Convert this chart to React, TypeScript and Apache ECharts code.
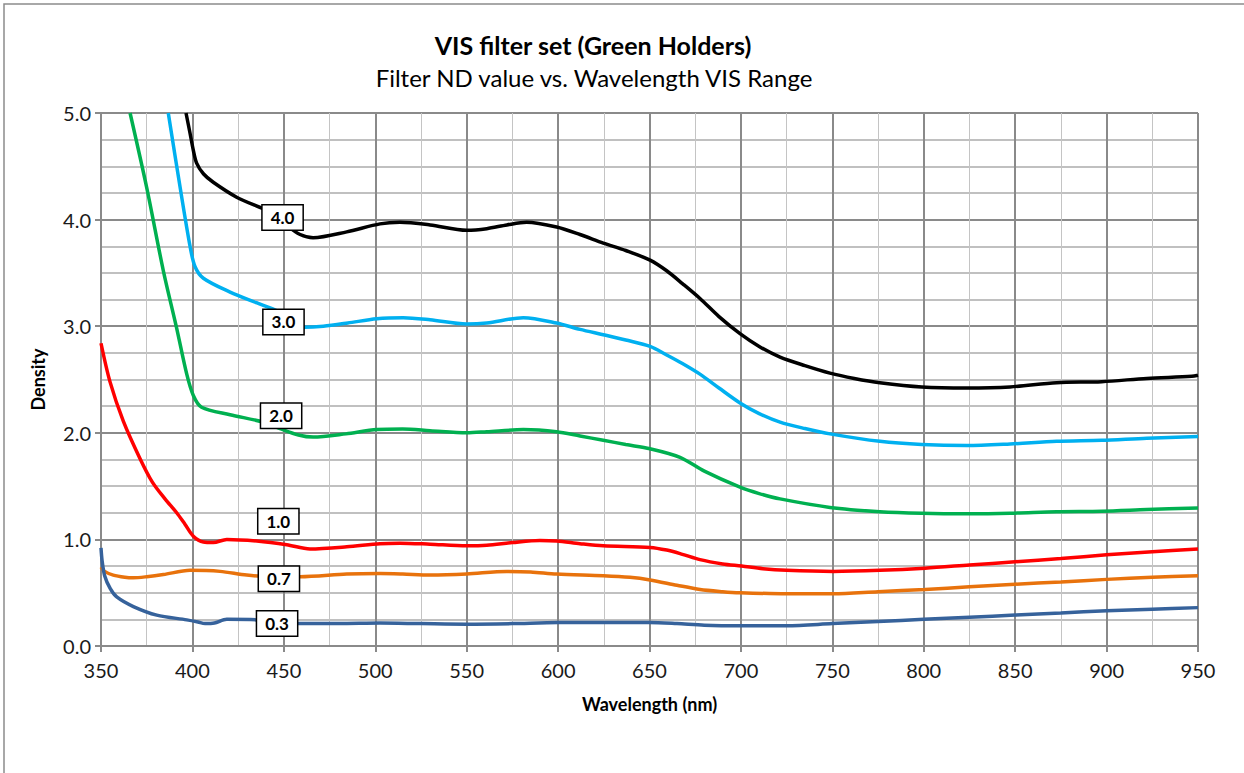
import React, { useEffect, useRef } from "react";
import * as echarts from "echarts";

const FONT = "Lato, 'Open Sans', sans-serif";

// Wavelength (nm) / density pairs for each ND filter curve
const wlND40 = [396.5, 398.7, 400.5, 402.3, 406, 411.4, 424.2, 438.8, 445, 452, 458.9, 466, 484.4, 502.6, 513.5, 530, 550, 561, 572, 582.8, 599.2, 612, 624.7, 637, 650.3, 659.4, 668, 677.6, 688, 699.5, 710, 721.4, 735, 748.7, 762, 776, 798.9, 823.5, 847.2, 872.7, 897.3, 922, 946.6, 950];
const dND40 = [5.0, 4.81, 4.65, 4.53, 4.43, 4.35, 4.21, 4.1, 4.05, 3.94, 3.86, 3.83, 3.885, 3.96, 3.975, 3.95, 3.9, 3.915, 3.95, 3.975, 3.93, 3.86, 3.78, 3.71, 3.62, 3.52, 3.4, 3.26, 3.09, 2.93, 2.81, 2.71, 2.63, 2.56, 2.51, 2.47, 2.43, 2.42, 2.43, 2.47, 2.48, 2.51, 2.53, 2.54];

const wlND30 = [386.8, 393.2, 398.7, 401.4, 406, 420.6, 435, 447, 455, 460.7, 471.6, 485, 500.8, 515.3, 530, 550, 561, 581, 599.2, 612, 624.7, 637, 650.3, 659.4, 668, 677.6, 688, 699.5, 710, 721.4, 735, 748.7, 776, 798.9, 823.5, 847.2, 872.7, 897.3, 922, 950];
const dND30 = [5.0, 4.31, 3.75, 3.56, 3.45, 3.32, 3.22, 3.14, 3.05, 2.99, 3.0, 3.03, 3.07, 3.08, 3.06, 3.02, 3.03, 3.08, 3.03, 2.97, 2.92, 2.87, 2.81, 2.73, 2.65, 2.55, 2.42, 2.28, 2.18, 2.1, 2.04, 1.99, 1.92, 1.89, 1.88, 1.895, 1.92, 1.93, 1.95, 1.965];

const wlND20 = [365.9, 375, 384.1, 391.4, 396.9, 400.5, 405, 420.6, 438.8, 447.9, 458, 466, 484, 500.8, 515, 530, 550, 561, 581, 599.2, 612, 624.7, 637, 650.3, 666.7, 680, 699.5, 710, 721.4, 748.7, 776, 798.9, 823.5, 847.2, 872.7, 897.3, 922, 950];
const dND20 = [5.0, 4.3, 3.52, 2.98, 2.55, 2.35, 2.24, 2.17, 2.1, 2.04, 1.98, 1.96, 1.99, 2.03, 2.035, 2.02, 2.0, 2.01, 2.03, 2.01, 1.97, 1.93, 1.89, 1.85, 1.77, 1.64, 1.49, 1.43, 1.38, 1.3, 1.26, 1.245, 1.24, 1.245, 1.26, 1.265, 1.28, 1.295];

const wlND10 = [350, 354.9, 362.2, 371.3, 378, 385, 391.4, 396, 400.5, 406, 411.4, 418.8, 435.2, 451.6, 464.3, 484.4, 502.6, 513.5, 530, 550, 561, 575, 590, 599.2, 612, 624.7, 650.3, 659.4, 668, 677.6, 690, 700.4, 712, 725, 750.5, 776, 800.7, 825, 850, 875, 900, 925, 950];
const dND10 = [2.84, 2.48, 2.11, 1.76, 1.54, 1.38, 1.25, 1.14, 1.03, 0.975, 0.97, 1.0, 0.985, 0.95, 0.91, 0.93, 0.96, 0.965, 0.955, 0.94, 0.945, 0.97, 0.99, 0.985, 0.96, 0.94, 0.925, 0.9, 0.86, 0.81, 0.77, 0.75, 0.725, 0.71, 0.7, 0.71, 0.73, 0.76, 0.79, 0.82, 0.855, 0.885, 0.91];

const wlND07 = [350, 352, 356.7, 363, 367.7, 375, 384.1, 398.7, 415.1, 429.7, 445, 458.9, 484.4, 502.6, 515, 530, 550, 571.9, 585, 599.2, 624.7, 639.3, 650.3, 665, 677.6, 690, 699.5, 725, 750.5, 775, 800.7, 825, 850, 875, 900, 925, 950];
const dND07 = [0.74, 0.7, 0.665, 0.645, 0.64, 0.65, 0.67, 0.71, 0.7, 0.665, 0.65, 0.65, 0.675, 0.68, 0.675, 0.665, 0.675, 0.7, 0.695, 0.675, 0.66, 0.645, 0.62, 0.57, 0.53, 0.51, 0.5, 0.49, 0.49, 0.51, 0.53, 0.555, 0.58, 0.6, 0.625, 0.645, 0.66];

const wlND03 = [350, 350.6, 352, 355, 358.6, 367.7, 380.5, 396.9, 403, 406.9, 412, 418.8, 435.2, 450, 458.9, 480, 502.6, 525, 550, 575, 600, 625, 650, 665, 680, 700, 725, 750, 775, 800, 825, 850, 875, 900, 925, 950];
const dND03 = [0.92, 0.8, 0.66, 0.54, 0.46, 0.37, 0.29, 0.245, 0.225, 0.21, 0.215, 0.25, 0.245, 0.22, 0.21, 0.21, 0.215, 0.21, 0.205, 0.21, 0.22, 0.22, 0.22, 0.21, 0.195, 0.19, 0.19, 0.21, 0.23, 0.25, 0.27, 0.29, 0.31, 0.33, 0.345, 0.36];

const seriesNames = ["4.0", "3.0", "2.0", "1.0", "0.7", "0.3"];
const seriesColors = ["#000000", "#00B0F0", "#00B050", "#FF0000", "#E8720C", "#36629B"];
const seriesWl = [wlND40, wlND30, wlND20, wlND10, wlND07, wlND03];
const seriesD = [dND40, dND30, dND20, dND10, dND07, dND03];

// Boxed curve labels
const labelX = [449.3, 449.8, 448.5, 447, 447.3, 446.3];
const labelY = [4.02, 3.04, 2.16, 1.17, 0.63, 0.21];
const labelText = ["4.0", "3.0", "2.0", "1.0", "0.7", "0.3"];

const xTicks = { min: 350, max: 950, interval: 50 };
const yTicks = { min: 0, max: 5, interval: 1 };

const titleText = "VIS filter set (Green Holders)";
const subtitleText = "Filter ND value vs. Wavelength VIS Range";
const xName = "Wavelength (nm)";
const yName = "Density";

export default function App() {
  const ref = useRef<HTMLDivElement>(null);

  useEffect(() => {
    document.body.style.margin = "0";
    if (!ref.current) return;
    const chart = echarts.init(ref.current, null, { renderer: "svg" });

    const lineSeries = seriesNames.map((name, i) => ({
      name,
      type: "line",
      data: seriesWl[i].map((w, j) => [w, seriesD[i][j]]),
      showSymbol: false,
      smooth: 0.3,
      clip: true,
      lineStyle: { color: seriesColors[i], width: 3.5 },
      itemStyle: { color: seriesColors[i] },
      z: 3,
    }));

    const labelSeries = {
      type: "scatter",
      symbolSize: 0,
      z: 10,
      itemStyle: { opacity: 1, color: "#000" },
      data: labelX.map((x, i) => [x, labelY[i], labelText[i]]),
      label: {
        show: true,
        position: "inside",
        opacity: 1,
        formatter: (p: any) => p.value[2],
        color: "#000",
        fontFamily: FONT,
        fontWeight: "bold",
        fontSize: 17,
        backgroundColor: "#fff",
        borderColor: "#000",
        borderWidth: 1.5,
        padding: [4, 8, 3, 8],
      },
    };

    const majorLine = { show: true, lineStyle: { color: "#8a8a8a", width: 2 } };

    chart.setOption({
      animation: false,
      backgroundColor: "#fff",
      grid: { left: 101, right: 46, top: 113, bottom: 127, containLabel: false },
      graphic: [
        {
          type: "rect",
          shape: { x: 4, y: 4, width: 1400, height: 1000 },
          style: { fill: "none", stroke: "#8c8c8c", lineWidth: 1.5 },
          silent: true,
        },
        {
          type: "text",
          x: 593,
          y: 45,
          style: {
            text: titleText,
            font: `bold 25px ${FONT}`,
            fill: "#000",
            textAlign: "center",
            textVerticalAlign: "middle",
          },
        },
        {
          type: "text",
          x: 594,
          y: 77,
          style: {
            text: subtitleText,
            font: `24px ${FONT}`,
            fill: "#000",
            textAlign: "center",
            textVerticalAlign: "middle",
          },
        },
      ],
      xAxis: {
        type: "value",
        min: xTicks.min,
        max: xTicks.max,
        interval: xTicks.interval,
        name: xName,
        nameLocation: "middle",
        nameGap: 49,
        nameTextStyle: { fontFamily: FONT, fontWeight: "bold", fontSize: 18, color: "#000" },
        axisLine: { show: true, onZero: false, lineStyle: { color: "#8a8a8a", width: 2 } },
        axisTick: { show: true, length: 6, lineStyle: { color: "#8a8a8a", width: 2 } },
        axisLabel: { fontFamily: FONT, fontSize: 20, color: "#1a1a1a", margin: 14 },
        splitLine: majorLine,
        minorTick: { show: false, splitNumber: 2 },
        minorSplitLine: { show: true, lineStyle: { color: "#c4c4c4", width: 1 } },
      },
      yAxis: {
        type: "value",
        min: yTicks.min,
        max: yTicks.max,
        interval: yTicks.interval,
        name: yName,
        nameLocation: "middle",
        nameGap: 54,
        nameRotate: 90,
        nameTextStyle: { fontFamily: FONT, fontWeight: "bold", fontSize: 18, color: "#000" },
        axisLine: { show: true, lineStyle: { color: "#8a8a8a", width: 2 } },
        axisTick: { show: true, length: 6, lineStyle: { color: "#8a8a8a", width: 2 } },
        axisLabel: {
          fontFamily: FONT,
          fontSize: 20,
          color: "#1a1a1a",
          margin: 10,
          formatter: (v: number) => v.toFixed(1),
        },
        splitLine: majorLine,
        minorTick: { show: false, splitNumber: 4 },
        minorSplitLine: { show: true, lineStyle: { color: "#ababab", width: 1.5 } },
      },
      series: [...lineSeries, labelSeries],
    });

    return () => chart.dispose();
  }, []);

  return <div ref={ref} style={{ width: 1244, height: 773 }} />;
}
